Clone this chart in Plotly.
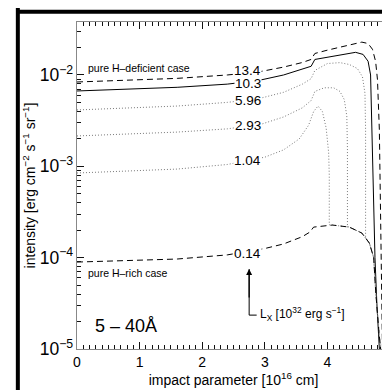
import math
import plotly.graph_objects as go

# ---------------- data ----------------
x_13_4 = [0, 0.8, 1.6, 2.4, 2.9, 3.3, 3.6, 3.74, 3.80, 4.0, 4.2, 4.4, 4.55, 4.65, 4.72, 4.77, 4.80, 4.83, 4.86, 4.88]
y_13_4 = [8.38e-3, 8.75e-3, 9.18e-3, 1.00e-2, 1.08e-2, 1.22e-2, 1.37e-2, 1.48e-2, 1.72e-2, 1.87e-2,
          2.02e-2, 2.19e-2, 2.29e-2, 2.21e-2, 1.91e-2, 1.41e-2, 8.9e-3, 2.5e-3, 1.6e-4, 1.0e-5]

x_10_3 = [0, 0.8, 1.6, 2.4, 2.9, 3.3, 3.6, 3.74, 3.80, 4.0, 4.2, 4.45, 4.57, 4.65, 4.69, 4.71, 4.73, 4.76, 4.79, 4.81, 4.83]
y_10_3 = [6.68e-3, 7.0e-3, 7.33e-3, 7.94e-3, 8.71e-3, 1.0e-2, 1.148e-2, 1.245e-2, 1.479e-2, 1.567e-2,
          1.66e-2, 1.77e-2, 1.679e-2, 1.413e-2, 1.0e-2, 2.51e-3, 5.0e-4, 1.0e-4, 3.16e-5, 1.58e-5, 1.0e-5]

x_5_96 = [0, 0.8, 1.6, 2.4, 2.9, 3.3, 3.6, 3.74, 3.80, 4.0, 4.2, 4.35, 4.48, 4.56, 4.60, 4.61, 4.61, 4.67, 4.74, 4.77, 4.82, 4.85]
y_5_96 = [4.14e-3, 4.32e-3, 4.57e-3, 5.01e-3, 5.50e-3, 6.46e-3, 7.94e-3, 9.12e-3, 1.122e-2, 1.334e-2,
          1.365e-2, 1.303e-2, 1.175e-2, 9.55e-3, 6.31e-3, 2.51e-3, 1.66e-4, 1.445e-4, 1.0e-4, 4.42e-5, 1.62e-5, 1.0e-5]

x_2_93 = [0, 0.8, 1.6, 2.4, 2.95, 3.3, 3.6, 3.74, 3.80, 3.95, 4.1, 4.2, 4.27, 4.31, 4.32, 4.32, 4.35, 4.55, 4.67, 4.74, 4.77, 4.82, 4.85]
y_2_93 = [2.15e-3, 2.24e-3, 2.37e-3, 2.57e-3, 2.90e-3, 3.47e-3, 4.37e-3, 5.25e-3, 6.61e-3, 7.24e-3,
          7.24e-3, 6.61e-3, 5.37e-3, 3.55e-3, 1.585e-3, 2.19e-4, 2.16e-4, 1.86e-4, 1.445e-4, 1.0e-4, 4.42e-5, 1.62e-5, 1.0e-5]

x_1_04 = [0, 0.8, 1.6, 2.4, 3.0, 3.3, 3.55, 3.7, 3.78, 3.85, 3.92, 3.98, 4.02, 4.03, 4.03, 4.08, 4.35, 4.55, 4.67, 4.74, 4.77, 4.82, 4.85]
y_1_04 = [8.45e-4, 8.81e-4, 9.33e-4, 1.047e-3, 1.259e-3, 1.514e-3, 1.995e-3, 2.82e-3, 3.98e-3, 4.57e-3,
          3.98e-3, 2.63e-3, 1.41e-3, 7.94e-4, 2.29e-4, 2.275e-4, 2.16e-4, 1.86e-4, 1.445e-4, 1.0e-4, 4.42e-5, 1.62e-5, 1.0e-5]

x_0_14 = [0, 0.8, 1.6, 2.4, 3.0, 3.3, 3.6, 3.72, 3.78, 4.08, 4.35, 4.55, 4.67, 4.74, 4.77, 4.82, 4.85]
y_0_14 = [8.95e-5, 9.23e-5, 9.66e-5, 1.072e-4, 1.259e-4, 1.413e-4, 1.698e-4, 1.905e-4, 2.16e-4, 2.275e-4,
          2.16e-4, 1.86e-4, 1.445e-4, 1.0e-4, 4.42e-5, 1.62e-5, 1.0e-5]

curve_labels = ["13.4", "10.3", "5.96", "2.93", "1.04", "0.14"]
label_x = [2.73, 2.73, 2.73, 2.73, 2.73, 2.73]
label_y = [1.107e-2, 8.17e-3, 5.32e-3, 2.83e-3, 1.17e-3, 1.12e-4]

FONT = "Liberation Sans, Arial, Helvetica, sans-serif"
DOT = "#7a7a7a"
TICK = "#111111"

fig = go.Figure()

styles = [
    (x_13_4, y_13_4, "black", "6px,4px"),
    (x_10_3, y_10_3, "black", "solid"),
    (x_5_96, y_5_96, DOT, "1px,2px"),
    (x_2_93, y_2_93, DOT, "1px,2px"),
    (x_1_04, y_1_04, DOT, "1px,2px"),
    (x_0_14, y_0_14, "black", "6px,4px"),
]
for xs, ys, col, dash in styles:
    fig.add_trace(go.Scatter(x=xs, y=ys, mode="lines",
                             line=dict(color=col, width=1, dash=dash),
                             showlegend=False, hoverinfo="skip"))

# L-shaped pointer line
fig.add_trace(go.Scatter(x=[2.75, 2.75, 2.87], y=[7.5e-5, 2.35e-5, 2.35e-5], mode="lines",
                         line=dict(color="black", width=1), showlegend=False, hoverinfo="skip"))

# invisible trace on the mirrored (top/right) axes so their ticks are drawn
fig.add_trace(go.Scatter(x=[0, 5], y=[1e-5, 1e-2], xaxis="x2", yaxis="y2", mode="markers",
                         marker=dict(opacity=0), showlegend=False, hoverinfo="skip"))

annotations = []
for t, xv, yv in zip(curve_labels, label_x, label_y):
    annotations.append(dict(x=xv, y=math.log10(yv), text=t, showarrow=False,
                            font=dict(family=FONT, size=13.5, color="black"),
                            bgcolor="white", borderpad=0, xanchor="center", yanchor="middle"))

annotations += [
    dict(x=0.14, y=math.log10(1.19e-2), text="pure H–deficient case", showarrow=False,
         xanchor="left", yanchor="middle", font=dict(family=FONT, size=10.5, color="black")),
    dict(x=0.14, y=math.log10(6.8e-5), text="pure H–rich case", showarrow=False,
         xanchor="left", yanchor="middle", font=dict(family=FONT, size=10.5, color="black")),
    dict(x=0.26, y=math.log10(1.78e-5), text="5 – 40Å", showarrow=False,
         xanchor="left", yanchor="middle", font=dict(family=FONT, size=18, color="black")),
    dict(x=2.89, y=math.log10(2.4e-5), text="L<sub>X</sub> [10<sup>32</sup> erg s<sup>−1</sup>]",
         showarrow=False, xanchor="left", yanchor="middle", font=dict(family=FONT, size=12, color="black")),
    dict(x=2.75, y=math.log10(7.5e-5), text="", showarrow=True, arrowhead=2, arrowsize=1,
         arrowwidth=1.2, arrowcolor="black", ax=0, ay=30),
]

# plot area in figure pixels: x 69..382, y 14..341  (page adds an 8px body margin)
shapes = [
    dict(type="line", xref="paper", yref="paper", x0=-0.189, x1=1.2, y0=1.031, y1=1.031,
         line=dict(color="black", width=4)),
    dict(type="line", xref="paper", yref="paper", x0=-0.189, x1=-0.189, y0=1.045, y1=-0.2,
         line=dict(color="black", width=4)),
]

axis_base = dict(showgrid=False, zeroline=False, showline=True, linecolor="#888888", linewidth=1,
                 ticks="inside", tickcolor=TICK, tickwidth=1, automargin=False, ticklen=7)
minor_x = dict(ticks="inside", dtick=0.1, tick0=0, ticklen=4, tickcolor=TICK, tickwidth=1)
minor_y = dict(ticks="inside", dtick="D1", ticklen=4, tickcolor=TICK, tickwidth=1)
tick_font = dict(family=FONT, size=14, color="black")

fig.update_layout(
    width=390, height=390,
    margin=dict(l=69, r=8, t=14, b=49),
    paper_bgcolor="white", plot_bgcolor="white",
    xaxis=dict(range=[0, 5], tick0=0, dtick=1, minor=minor_x, tickfont=tick_font,
               title=dict(text="impact parameter [10<sup>16</sup> cm]", standoff=0,
                          font=dict(family=FONT, size=14, color="black")),
               **axis_base),
    yaxis=dict(type="log", range=[-5, -1.42], dtick=1, exponentformat="power", minor=minor_y,
               tickfont=tick_font,
               title=dict(text="intensity [erg cm<sup>−2</sup> s<sup>−1</sup> sr<sup>−1</sup>]", standoff=0,
                          font=dict(family=FONT, size=14, color="black")),
               **axis_base),
    xaxis2=dict(overlaying="x", side="top", anchor="y2", range=[0, 5], tick0=0, dtick=1,
                showticklabels=False, minor=minor_x, **axis_base),
    yaxis2=dict(overlaying="y", side="right", anchor="x2", type="log", range=[-5, -1.42], dtick=1,
                showticklabels=False, minor=minor_y, **axis_base),
    annotations=annotations,
    shapes=shapes,
)

fig.write_html("out.html")
